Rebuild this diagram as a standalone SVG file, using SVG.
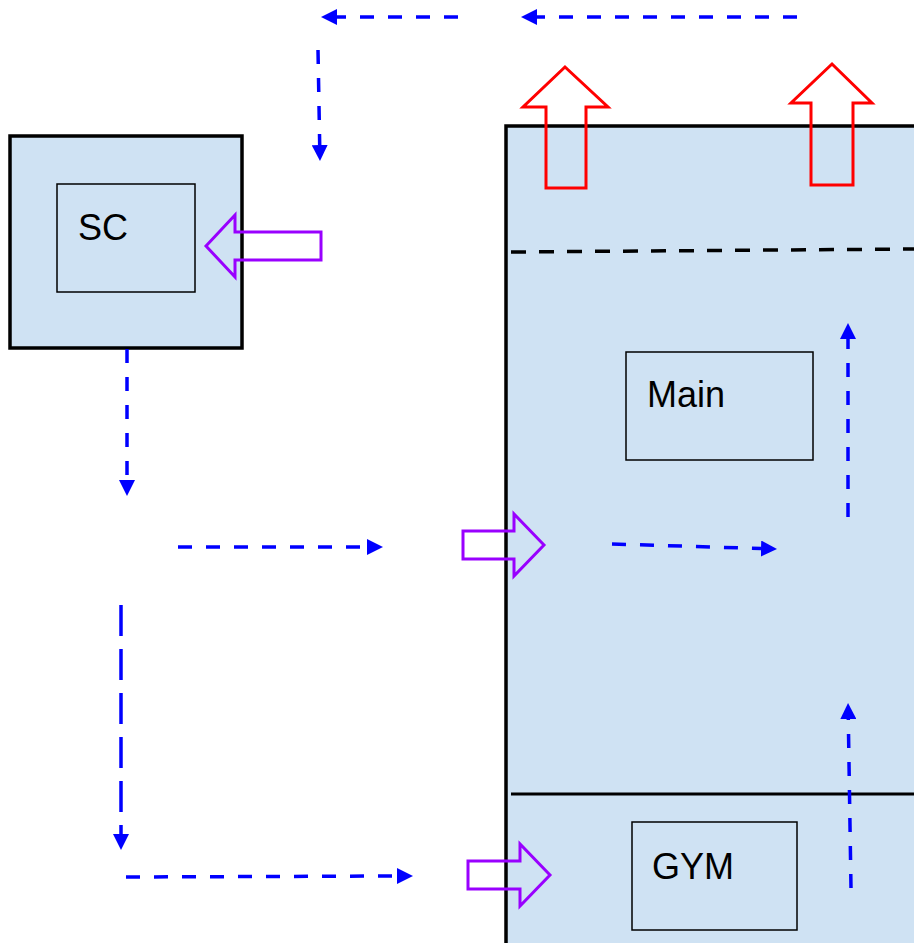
<svg xmlns="http://www.w3.org/2000/svg" width="914" height="943" viewBox="0 0 914 943">
  <style>
    .bld { fill: #cfe2f3; stroke: #000; stroke-width: 3.5; }
    .room { fill: none; stroke: #000; stroke-width: 1.5; }
    .lbl { font-family: "Liberation Sans", Arial, sans-serif; font-size: 36px; fill: #000; }
    .flow { fill: none; stroke: #0000ff; stroke-width: 3.5; stroke-dasharray: 14 14; }
    .flow-long { fill: none; stroke: #0000ff; stroke-width: 3.5; stroke-dasharray: 31 13; }
    .red { fill: none; stroke: #ff0000; stroke-width: 3; }
    .purple { fill: none; stroke: #9900ff; stroke-width: 3; }
  </style>
  <defs>
    <marker id="ah" viewBox="0 0 16 16" markerWidth="16" markerHeight="16" refX="0" refY="8" orient="auto" markerUnits="userSpaceOnUse">
      <path d="M0,0 L16,8 L0,16 z" fill="#0000ff"/>
    </marker>
  </defs>
  <rect width="914" height="943" fill="#ffffff"/>

  <g id="main-building">
    <rect class="bld" x="506" y="126" width="420" height="830"/>
    <line x1="511" y1="252" x2="914" y2="249" stroke="#000" stroke-width="3.5" stroke-dasharray="15 13"/>
    <line x1="511" y1="794" x2="914" y2="794" stroke="#000" stroke-width="3"/>
  </g>

  <g id="sc-building">
    <rect class="bld" x="10" y="136" width="232" height="212"/>
  </g>

  <g id="sc">
    <rect class="room" x="57" y="184" width="138" height="108"/>
    <text class="lbl" x="78" y="240">SC</text>
  </g>

  <g id="main">
    <rect class="room" x="626" y="352" width="187" height="108"/>
    <text class="lbl" x="647" y="407">Main</text>
  </g>

  <g id="gym">
    <rect class="room" x="632" y="822" width="165" height="108"/>
    <text class="lbl" x="652" y="879">GYM</text>
  </g>

  <g id="exit-arrows">
    <polygon class="red" points="565,67 608,107 586,107 586,188 546,188 546,107 523,107"/>
    <polygon class="red" points="832,64 872,103 853,103 853,185 811,185 811,103 791,103"/>
  </g>

  <g id="entry-arrows">
    <polygon class="purple" points="206,246 235,215 235,232 321,232 321,260 235,260 235,277"/>
    <polygon class="purple" points="544,545 514,514 514,531 463,531 463,559 514,559 514,576"/>
    <polygon class="purple" points="550,875 520,844 520,861 468,861 468,889 520,889 520,906"/>
  </g>

  <g id="connectors">
    <line class="flow" x1="797" y1="17" x2="537" y2="17" marker-end="url(#ah)"/>
    <line class="flow" x1="458" y1="17" x2="337" y2="17" marker-end="url(#ah)"/>
    <line class="flow" x1="318" y1="50" x2="319.7" y2="145" marker-end="url(#ah)"/>
    <line class="flow" x1="127" y1="349" x2="127" y2="480" marker-end="url(#ah)"/>
    <line class="flow" x1="178" y1="547" x2="367" y2="547" marker-end="url(#ah)"/>
    <line class="flow" x1="612" y1="544" x2="761" y2="548.5" marker-end="url(#ah)"/>
    <line class="flow" x1="848" y1="517" x2="848" y2="339" marker-end="url(#ah)"/>
    <line class="flow-long" x1="121" y1="605" x2="121" y2="834" marker-end="url(#ah)"/>
    <line class="flow" x1="126" y1="877" x2="397" y2="876" marker-end="url(#ah)"/>
    <line class="flow" x1="851" y1="888" x2="848.3" y2="719" marker-end="url(#ah)"/>
  </g>
</svg>
